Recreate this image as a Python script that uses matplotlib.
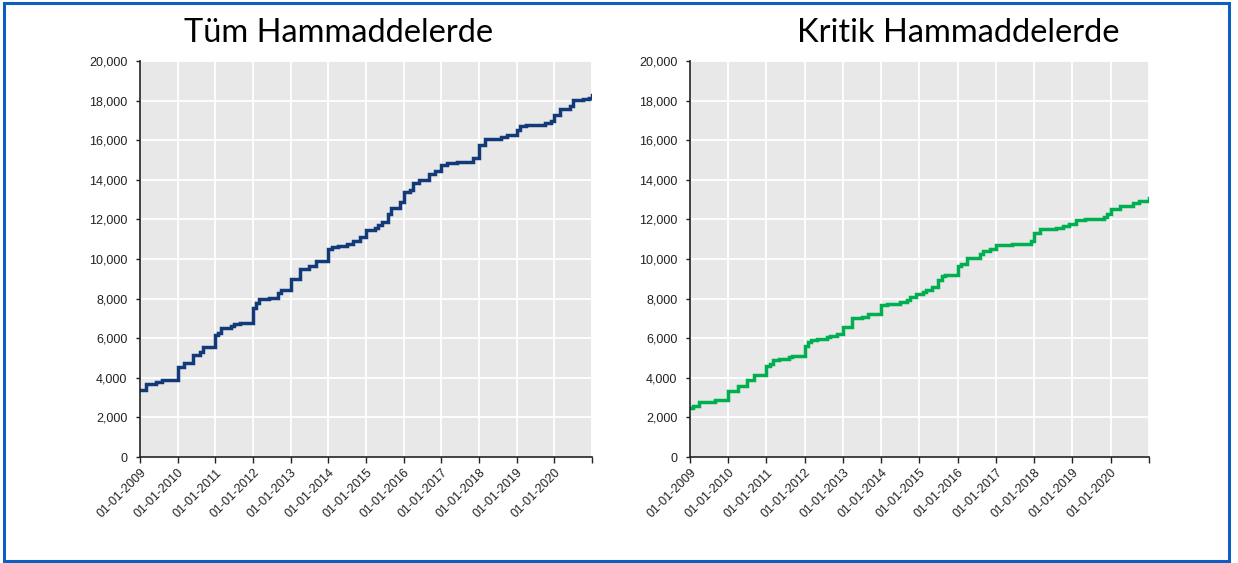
import pandas as pd
import numpy as np
import matplotlib.pyplot as plt
import matplotlib.dates as mdates
from matplotlib.patches import Rectangle

# step points (month the level changes, level after the change)
tum_dates = ['2009-01', '2009-03', '2009-06', '2009-08', '2010-01', '2010-03', '2010-06', '2010-08',
             '2010-09', '2011-01', '2011-02', '2011-03', '2011-06', '2011-07', '2011-09', '2012-01',
             '2012-02', '2012-03', '2012-06', '2012-09', '2012-10', '2013-01', '2013-04', '2013-07',
             '2013-09', '2014-01', '2014-02', '2014-04', '2014-07', '2014-09', '2014-11', '2015-01',
             '2015-04', '2015-05', '2015-06', '2015-08', '2015-09', '2015-12', '2016-01', '2016-03',
             '2016-04', '2016-06', '2016-09', '2016-11', '2017-01', '2017-03', '2017-06', '2017-11',
             '2018-01', '2018-03', '2018-08', '2018-10', '2019-01', '2019-02', '2019-04', '2019-10',
             '2019-12', '2020-01', '2020-03', '2020-06', '2020-07', '2020-10', '2020-12', '2021-01']
tum_values = [3400, 3700, 3810, 3900, 4530, 4750, 5170, 5290,
              5540, 6150, 6270, 6530, 6610, 6700, 6780, 7540,
              7760, 8000, 8050, 8300, 8420, 8980, 9490, 9660,
              9880, 10510, 10630, 10680, 10760, 10900, 11100, 11470,
              11560, 11700, 11850, 12290, 12580, 12880, 13390, 13480,
              13850, 13980, 14290, 14440, 14750, 14830, 14920, 15090,
              15760, 16050, 16150, 16270, 16530, 16700, 16760, 16860,
              16950, 17290, 17580, 17710, 18020, 18090, 18120, 18300]

kritik_dates = ['2009-01', '2009-02', '2009-04', '2009-09', '2010-01', '2010-04', '2010-07', '2010-09',
                '2011-01', '2011-02', '2011-03', '2011-05', '2011-08', '2011-09', '2012-01', '2012-02',
                '2012-03', '2012-05', '2012-08', '2012-09', '2012-11', '2013-01', '2013-04', '2013-07',
                '2013-09', '2014-01', '2014-03', '2014-07', '2014-09', '2014-10', '2014-12', '2015-02',
                '2015-03', '2015-05', '2015-07', '2015-08', '2015-09', '2016-01', '2016-02', '2016-04',
                '2016-08', '2016-09', '2016-11', '2017-01', '2017-06', '2017-12', '2018-01', '2018-03',
                '2018-08', '2018-10', '2018-12', '2019-02', '2019-05', '2019-11', '2019-12', '2020-01',
                '2020-04', '2020-08', '2020-10', '2021-01']
kritik_values = [2500, 2590, 2800, 2890, 3350, 3570, 3900, 4140,
                 4610, 4700, 4900, 4950, 5040, 5120, 5630, 5800,
                 5920, 5970, 6050, 6130, 6220, 6590, 7010, 7060,
                 7230, 7660, 7740, 7820, 7940, 8080, 8250, 8330,
                 8450, 8590, 8920, 9130, 9210, 9630, 9770, 10070,
                 10240, 10390, 10480, 10700, 10780, 10920, 11320, 11490,
                 11590, 11680, 11760, 11970, 12030, 12130, 12270, 12510,
                 12680, 12840, 12950, 13100]

years = list(range(2009, 2022))
titles = ['Tüm Hammaddelerde', 'Kritik Hammaddelerde']

fig = plt.figure(figsize=(12.38, 5.63), dpi=100)
fig.patch.set_facecolor('white')

# blue frame around the whole picture
fig.patches.append(Rectangle((0.003, 0.004), 0.9895, 0.99, transform=fig.transFigure,
                             fill=False, edgecolor='#0a5fc0', linewidth=2.2))

ax1 = fig.add_axes([140 / 1238, 1 - 457 / 563, 452 / 1238, 396 / 563])
ax2 = fig.add_axes([690 / 1238, 1 - 457 / 563, 459 / 1238, 396 / 563])


def style_axis(ax, dates, values, color):
    x = pd.to_datetime(dates)
    ax.step(x, values, where='post', color=color, linewidth=2.5, solid_joinstyle='miter')
    ax.set_facecolor('#e8e8e8')
    ax.set_xlim(pd.Timestamp('2009-01-01'), pd.Timestamp('2021-01-01'))
    ax.set_ylim(0, 20000)
    ticks = [pd.Timestamp(f'{y}-01-01') for y in years]
    ax.set_xticks(ticks)
    ax.set_xticklabels([f'01-01-{y}' if y < 2021 else '' for y in years],
                       rotation=45, ha='right', rotation_mode='anchor', fontsize=9,
                       family='Liberation Sans', color='#222222')
    ax.set_yticks(range(0, 20001, 2000))
    ax.set_yticklabels([f'{v:,}' for v in range(0, 20001, 2000)], fontsize=9,
                       family='Liberation Sans', color='#222222')
    ax.grid(True, color='white', linewidth=1.3)
    ax.set_axisbelow(True)
    for s in ['top', 'right']:
        ax.spines[s].set_visible(False)
    for s in ['left', 'bottom']:
        ax.spines[s].set_color('#222222')
        ax.spines[s].set_linewidth(1.2)
    ax.tick_params(axis='x', length=4, width=1, color='#222222', pad=3)
    ax.tick_params(axis='y', length=3, width=1, color='#222222', pad=6)


style_axis(ax1, tum_dates, tum_values, '#123a78')
style_axis(ax2, kritik_dates, kritik_values, '#00b050')

fig.text(339 / 1238, 1 - 33 / 563, titles[0], fontsize=23.5, family='Lato', ha='center', va='center')
fig.text(958 / 1238, 1 - 33 / 563, titles[1], fontsize=23.5, family='Lato', ha='center', va='center')

plt.savefig('out.png', dpi=100)
